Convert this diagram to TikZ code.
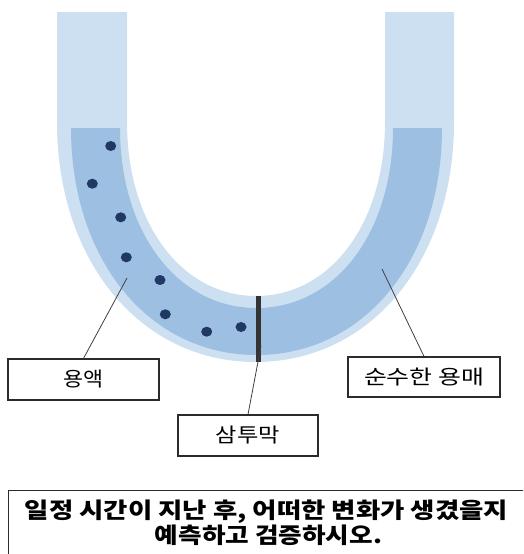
\documentclass[tikz,border=0pt]{standalone}
\usepackage{fontspec}
\usepackage{graphicx}
\newfontfamily\krfont{Noto Sans CJK KR}

\definecolor{tubelight}{HTML}{CDE0F1}
\definecolor{liquid}{HTML}{9DBFE1}
\definecolor{particle}{HTML}{1F3864}
\definecolor{framecol}{HTML}{2B2B2B}

\tikzset{
  labelbox/.style={draw=framecol, line width=1.2pt, fill=white, inner sep=0pt,
    font=\krfont\fontsize{20pt}{24pt}\selectfont},
  tasktext/.style={inner sep=0pt, font=\krfont\bfseries\fontsize{22pt}{26pt}\selectfont},
  leader/.style={draw=black!75, line width=0.8pt},
  solute/.style={fill=particle},
}

\begin{document}
\begin{tikzpicture}[x=1pt,y=-1pt]
  \useasboundingbox (0,0) rectangle (523,554);
  \clip (0,0) rectangle (523,554);

  % glass U-tube (outer wall minus the hollow inside)
  \fill[tubelight, even odd rule]
    (57,12) -- (57,122)
      .. controls (57,261.2) and (140.4,362) .. (255.5,362)
      .. controls (370.6,362) and (454,261.2) .. (454,122)
      -- (454,12) -- (385,12) -- (385,122)
      .. controls (385,222.9) and (330.8,296) .. (256,296)
      .. controls (181.2,296) and (127,222.9) .. (127,122)
      -- (127,12) -- cycle;

  % liquid filling the bend
  \fill[liquid]
    (71,128)
      .. controls (71,259.7) and (148.9,355) .. (256.5,355)
      .. controls (364.1,355) and (442,259.7) .. (442,128)
      -- (393,128)
      .. controls (393,232.4) and (335.7,308) .. (256.5,308)
      .. controls (177.3,308) and (120,232.4) .. (120,128)
      -- cycle;

  % solute particles on the solution side
  \foreach \px/\py in {110.7/146, 92.3/183.7, 120.7/217.3, 126.3/257.3,
                       160/280, 165.3/314.3, 206.7/331.7, 241/327}
    \fill[solute] (\px,\py) ellipse [x radius=5.5, y radius=5];

  % semipermeable membrane
  \node[fill=black!80, minimum width=5pt, minimum height=66pt, inner sep=0pt]
    (membrane) at (258.5,329) {};

  % label boxes
  \node[labelbox, minimum width=151pt, minimum height=41pt] (solution) at (83.5,379.5)
    {\resizebox{40pt}{\height}{용액}};
  \node[labelbox, minimum width=152pt, minimum height=40pt] (solvent) at (424,377)
    {\resizebox{120pt}{\height}{순수한 용매}};
  \node[labelbox, minimum width=140pt, minimum height=41pt] (memlabel) at (248,435.5)
    {\resizebox{64pt}{\height}{삼투막}};

  % leader lines
  \coordinate (solpt) at (127,278);
  \coordinate (svtpt) at (382,269);
  \coordinate (mempt) at (261,346);
  \draw[leader] (solpt) -- (solution.north);
  \draw[leader] (svtpt) -- (solvent.north);
  \draw[leader] (mempt) -- (memlabel.north);

  % question frame
  \node[draw=framecol, line width=1.2pt, anchor=north west, minimum width=540pt,
        minimum height=90pt, inner sep=0pt] (task) at (8,490) {};
  \node[tasktext] (taskA) at (266.5,512)
    {\resizebox{483pt}{\height}{일정 시간이 지난 후, 어떠한 변화가 생겼을지}};
  \node[tasktext] (taskB) at (268.5,535)
    {\resizebox{227pt}{\height}{예측하고 검증하시오.}};
\end{tikzpicture}
\end{document}
